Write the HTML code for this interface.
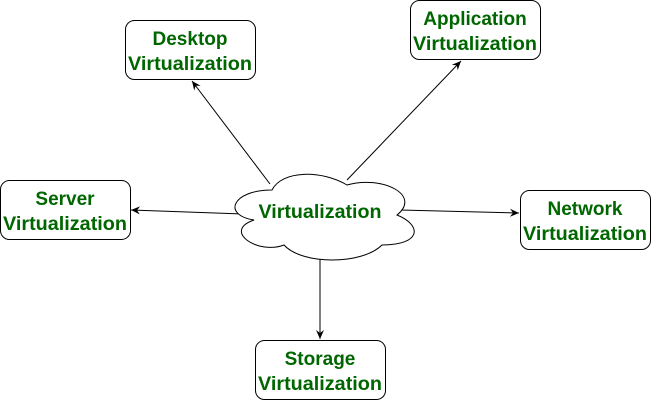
<!DOCTYPE html>
<html><head><style>
body{margin:0;background:#fff;width:651px;height:401px;overflow:hidden}
text{font-family:"Liberation Sans",Arial,sans-serif;font-weight:bold;font-size:19px;fill:#006600;text-anchor:middle}
</style></head><body>
<svg width="651" height="401" xmlns="http://www.w3.org/2000/svg">
<defs><marker id="a" markerWidth="10" markerHeight="10" refX="9" refY="5" orient="auto" markerUnits="userSpaceOnUse"><path d="M0,1 L9,5 L0,9 L3,5 Z" fill="#000"/></marker></defs>
<g stroke="#000" stroke-width="1" fill="none">
<line x1="270" y1="184" x2="192" y2="81" marker-end="url(#a)"/>
<line x1="347" y1="180" x2="461" y2="61" marker-end="url(#a)"/>
<line x1="243" y1="214" x2="131" y2="210" marker-end="url(#a)"/>
<line x1="400" y1="210" x2="519" y2="213" marker-end="url(#a)"/>
<line x1="320" y1="257" x2="320" y2="339" marker-end="url(#a)"/>
</g>
<path d="M272,190 C232,190 222,215 254,220 C222,231 258,255 284,245 C302,265 362,265 382,245 C422,245 422,225 397,215 C422,195 382,175 347,185 C322,170 282,170 272,190 Z" fill="#fff" stroke="#000" stroke-width="1"/>
<text x="320" y="218" textLength="123" lengthAdjust="spacingAndGlyphs">Virtualization</text>
<g fill="#fff" stroke="#000" stroke-width="1">
<rect x="125.5" y="20.5" width="130" height="59" rx="9"/>
<rect x="410.5" y="0.5" width="130" height="59" rx="9"/>
<rect x="0.5" y="180.5" width="130" height="59" rx="9"/>
<rect x="520.5" y="190.5" width="130" height="59" rx="9"/>
<rect x="255.5" y="340.5" width="130" height="59" rx="9"/>
</g>
<g>
<text x="190" y="45">Desktop</text><text x="190" y="70" textLength="124" lengthAdjust="spacingAndGlyphs">Virtualization</text>
<text x="475" y="25">Application</text><text x="475" y="50" textLength="124" lengthAdjust="spacingAndGlyphs">Virtualization</text>
<text x="65" y="205">Server</text><text x="65" y="230" textLength="124" lengthAdjust="spacingAndGlyphs">Virtualization</text>
<text x="585" y="215">Network</text><text x="585" y="240" textLength="124" lengthAdjust="spacingAndGlyphs">Virtualization</text>
<text x="320" y="365">Storage</text><text x="320" y="390" textLength="124" lengthAdjust="spacingAndGlyphs">Virtualization</text>
</g>
</svg>
</body></html>
